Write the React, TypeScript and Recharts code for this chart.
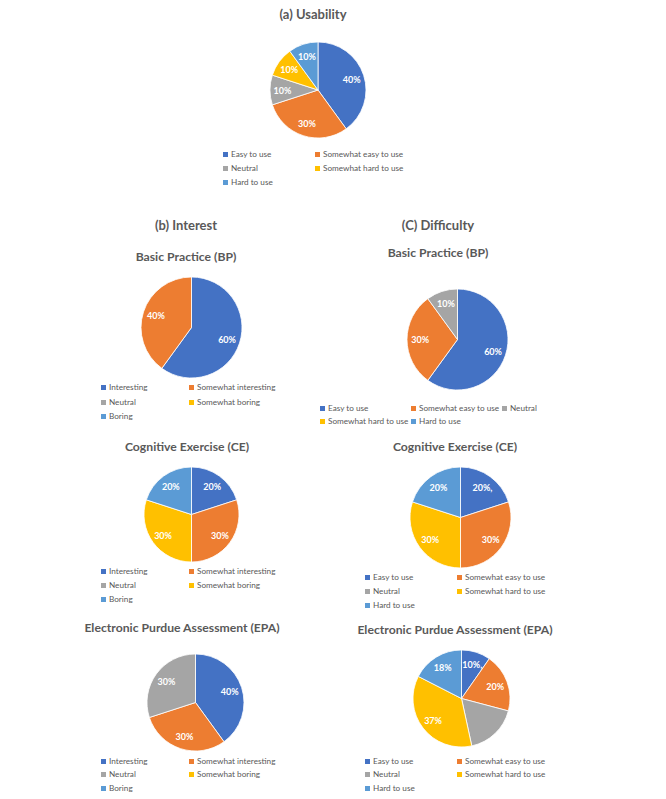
import React from "react";
import { PieChart, Pie, Cell } from "recharts";

const COLORS = ["#4472C4", "#ED7D31", "#A5A5A5", "#FFC000", "#5B9BD5"];

const usabilityCategories = ["Easy to use", "Somewhat easy to use", "Neutral", "Somewhat hard to use", "Hard to use"];
const usabilityValues = [40, 30, 10, 10, 10];

const interestCategories = ["Interesting", "Somewhat interesting", "Neutral", "Somewhat boring", "Boring"];
const interestBP = [60, 40, 0, 0, 0];
const interestCE = [20, 30, 0, 30, 20];
const interestEPA = [40, 30, 30, 0, 0];

const difficultyCategories = ["Easy to use", "Somewhat easy to use", "Neutral", "Somewhat hard to use", "Hard to use"];
const difficultyBP = [60, 30, 10, 0, 0];
const difficultyCE = [20, 30, 0, 30, 20];
const difficultyCELabels = ["20%,", "30%", "", "30%", "20%"];
const difficultyEPA = [10, 20, 18, 37, 18];
const difficultyEPALabels = ["10%,", "20%", "", "37%", "18%"];

const FONT = "Lato, 'Open Sans', sans-serif";
const TEXT_COLOR = "#595959";
const RAD = Math.PI / 180;

type PieProps = {
  cx: number;
  cy: number;
  r: number;
  categories: string[];
  values: number[];
  labels?: string[];
};

function PieBlock({ cx, cy, r, categories, values, labels }: PieProps) {
  const data = categories
    .map((name, i) => ({
      name,
      value: values[i],
      color: COLORS[i],
      text: labels ? labels[i] : `${values[i]}%`,
    }))
    .filter((d) => d.value > 0);
  const pad = 10;
  const size = 2 * r + 2 * pad;
  const renderLabel = (p: any) => {
    const rr = p.outerRadius * 0.74;
    const x = p.cx + rr * Math.cos(-p.midAngle * RAD);
    const y = p.cy + rr * Math.sin(-p.midAngle * RAD);
    const d = data[p.index];
    if (!d || !d.text) return null;
    return (
      <text
        x={x}
        y={y}
        fill="#ffffff"
        fontSize={9}
        fontWeight="bold"
        fontFamily={FONT}
        textAnchor="middle"
        dominantBaseline="central"
      >
        {d.text}
      </text>
    );
  };
  return (
    <div style={{ position: "absolute", left: cx - r - pad, top: cy - r - pad }}>
      <PieChart width={size} height={size}>
        <Pie
          data={data}
          dataKey="value"
          nameKey="name"
          cx={r + pad}
          cy={r + pad}
          outerRadius={r}
          startAngle={90}
          endAngle={-270}
          stroke="#ffffff"
          strokeWidth={0.8}
          label={renderLabel}
          labelLine={false}
          isAnimationActive={false}
        >
          {data.map((d) => (
            <Cell key={d.name} fill={d.color} />
          ))}
        </Pie>
      </PieChart>
    </div>
  );
}

function Title({ x, y, text, size = 12.2 }: { x: number; y: number; text: string; size?: number }) {
  return (
    <div
      style={{
        position: "absolute",
        left: x - 200,
        top: y - 10,
        width: 400,
        height: 20,
        lineHeight: "20px",
        textAlign: "center",
        fontFamily: FONT,
        fontWeight: "bold",
        fontSize: size,
        color: TEXT_COLOR,
        whiteSpace: "nowrap",
      }}
    >
      {text}
    </div>
  );
}

type LegendItem = { idx: number; x: number; y: number };

function LegendBlock({ categories, items }: { categories: string[]; items: LegendItem[] }) {
  return (
    <>
      {items.map((it) => (
        <div
          key={it.idx}
          style={{
            position: "absolute",
            left: it.x - 8,
            top: it.y - 7,
            height: 14,
            lineHeight: "14px",
            fontFamily: FONT,
            fontSize: 8.2,
            color: TEXT_COLOR,
            whiteSpace: "nowrap",
            display: "flex",
            alignItems: "center",
          }}
        >
          <span
            style={{
              display: "inline-block",
              width: 5,
              height: 5,
              background: COLORS[it.idx],
              marginRight: 3,
            }}
          />
          <span>{categories[it.idx]}</span>
        </div>
      ))}
    </>
  );
}

function fiveLegend(x1: number, x2: number, y1: number, y2: number, y3: number): LegendItem[] {
  return [
    { idx: 0, x: x1, y: y1 },
    { idx: 1, x: x2, y: y1 },
    { idx: 2, x: x1, y: y2 },
    { idx: 3, x: x2, y: y2 },
    { idx: 4, x: x1, y: y3 },
  ];
}

export default function App() {
  return (
    <div
      style={{
        position: "absolute",
        left: 0,
        top: 0,
        width: 666,
        height: 799,
        background: "#ffffff",
        overflow: "hidden",
      }}
    >
      {/* (a) Usability */}
      <Title x={313} y={14} text="(a) Usability" size={13} />
      <PieBlock cx={313} cy={85} r={48} categories={usabilityCategories} values={usabilityValues} />
      <LegendBlock categories={usabilityCategories} items={fiveLegend(231, 323, 154, 168, 182)} />

      {/* (b) Interest */}
      <Title x={186} y={225} text="(b) Interest" size={13} />
      <Title x={186} y={257} text="Basic Practice (BP)" />
      <PieBlock cx={186.5} cy={322.5} r={50.5} categories={interestCategories} values={interestBP} />
      <LegendBlock categories={interestCategories} items={fiveLegend(109, 197, 387, 402, 416)} />

      <Title x={187} y={447} text="Cognitive Exercise (CE)" />
      <PieBlock cx={186.5} cy={509.5} r={47.5} categories={interestCategories} values={interestCE} />
      <LegendBlock categories={interestCategories} items={fiveLegend(109, 197, 571, 585, 599)} />

      <Title x={182} y={628} text="Electronic Purdue Assessment (EPA)" />
      <PieBlock cx={190.5} cy={697} r={48.5} categories={interestCategories} values={interestEPA} />
      <LegendBlock categories={interestCategories} items={fiveLegend(109, 197, 761, 774, 788)} />

      {/* (C) Difficulty */}
      <Title x={438} y={225} text="(C) Difficulty" size={13} />
      <Title x={438} y={253} text="Basic Practice (BP)" />
      <PieBlock cx={452.5} cy={334.5} r={50.5} categories={difficultyCategories} values={difficultyBP} />
      <LegendBlock
        categories={difficultyCategories}
        items={[
          { idx: 0, x: 328, y: 408 },
          { idx: 1, x: 419, y: 408 },
          { idx: 2, x: 510, y: 408 },
          { idx: 3, x: 328, y: 421 },
          { idx: 4, x: 419, y: 421 },
        ]}
      />

      <Title x={455} y={447} text="Cognitive Exercise (CE)" />
      <PieBlock
        cx={455}
        cy={512.5}
        r={50.5}
        categories={difficultyCategories}
        values={difficultyCE}
        labels={difficultyCELabels}
      />
      <LegendBlock categories={difficultyCategories} items={fiveLegend(373, 465, 577, 591, 605)} />

      <Title x={455} y={630} text="Electronic Purdue Assessment (EPA)" />
      <PieBlock
        cx={456}
        cy={693.5}
        r={48.5}
        categories={difficultyCategories}
        values={difficultyEPA}
        labels={difficultyEPALabels}
      />
      <LegendBlock categories={difficultyCategories} items={fiveLegend(373, 465, 761, 774, 788)} />
    </div>
  );
}
